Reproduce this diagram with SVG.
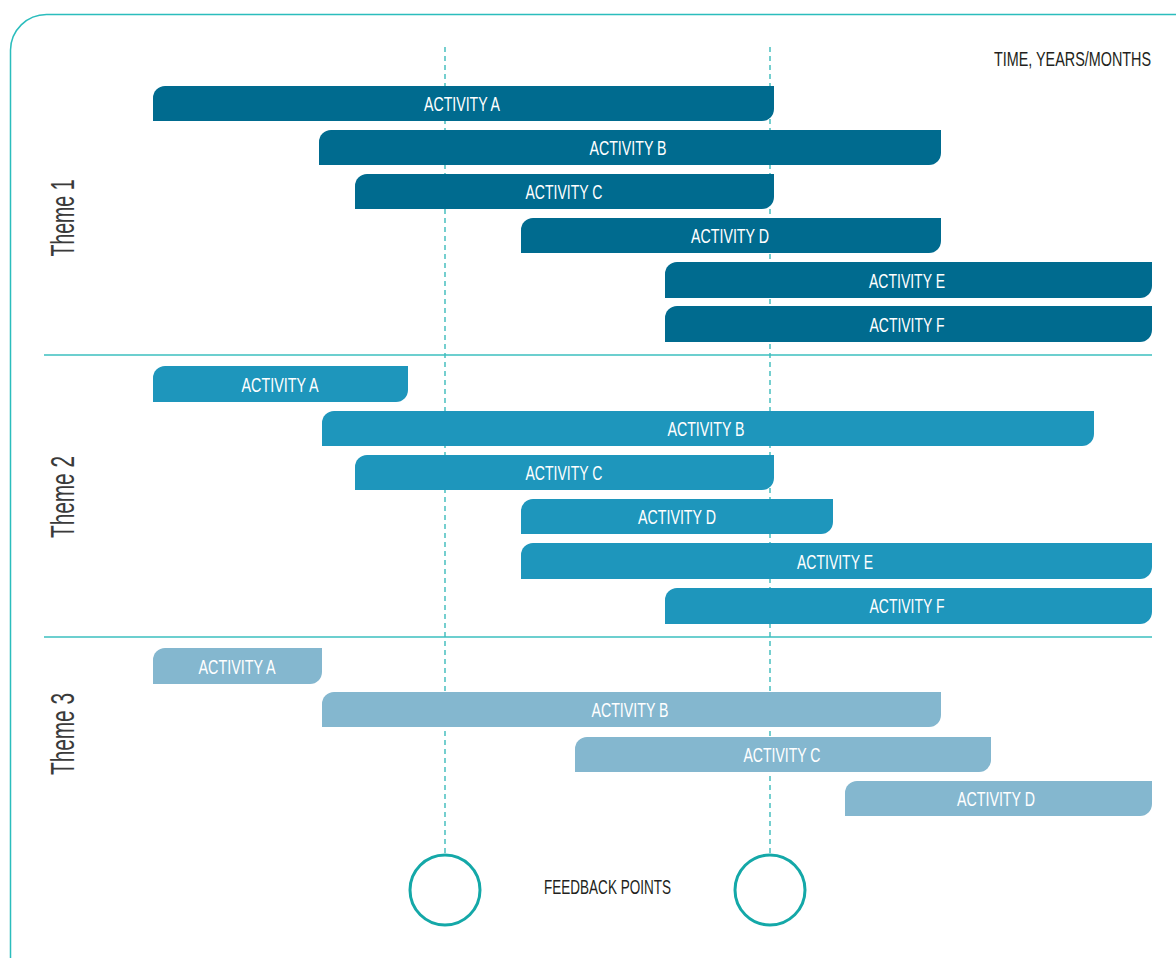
<svg xmlns="http://www.w3.org/2000/svg" width="1176" height="958" viewBox="0 0 1176 958">
<style>
.t1{fill:#006B8F}.t2{fill:#1E96BC}.t3{fill:#84B7CF}
.lbl{font-family:"Liberation Sans",Arial,sans-serif;font-size:19.5px;fill:#fff;text-anchor:middle}
.theme{font-family:"Liberation Sans",Arial,sans-serif;font-size:33px;fill:#3a3a3a;text-anchor:middle}
.dark{font-family:"Liberation Sans",Arial,sans-serif;font-size:21px;fill:#231f20}
.sep{stroke:#3BBFBF;stroke-width:1.5;fill:none}
.dash{stroke:#2BB5B5;stroke-width:1.3;stroke-dasharray:5 4;fill:none}
.fb{fill:none;stroke:#14A8A8;stroke-width:3}
</style>
<rect width="1176" height="958" fill="#fff"/>
<path d="M10.5 958 V50 A36 36 0 0 1 46.5 14.5 H1176" fill="none" stroke="#2BBDBD" stroke-width="1.5"/>
<g id="connectors">
<line class="dash" x1="445" y1="47" x2="445" y2="856"/>
<line class="dash" x1="770" y1="47" x2="770" y2="856"/>
<line class="sep" x1="44" y1="355" x2="1152" y2="355"/>
<line class="sep" x1="44" y1="637" x2="1152" y2="637"/>
</g>
<g id="theme1">
<text class="theme" transform="translate(74 218) rotate(-90)" textLength="77" lengthAdjust="spacingAndGlyphs">Theme 1</text>
<g id="t1a"><path class="t1" d="M153 121 V98 A12 12 0 0 1 165 86 H774 V109 A12 12 0 0 1 762 121 Z"/><text class="lbl" x="462" y="111" textLength="76" lengthAdjust="spacingAndGlyphs">ACTIVITY A</text></g>
<g id="t1b"><path class="t1" d="M319 165 V142 A12 12 0 0 1 331 130 H941 V153 A12 12 0 0 1 929 165 Z"/><text class="lbl" x="628" y="155" textLength="77" lengthAdjust="spacingAndGlyphs">ACTIVITY B</text></g>
<g id="t1c"><path class="t1" d="M355 209 V186 A12 12 0 0 1 367 174 H774 V197 A12 12 0 0 1 762 209 Z"/><text class="lbl" x="564" y="199" textLength="77" lengthAdjust="spacingAndGlyphs">ACTIVITY C</text></g>
<g id="t1d"><path class="t1" d="M521 253 V230 A12 12 0 0 1 533 218 H941 V241 A12 12 0 0 1 929 253 Z"/><text class="lbl" x="730" y="243" textLength="78" lengthAdjust="spacingAndGlyphs">ACTIVITY D</text></g>
<g id="t1e"><path class="t1" d="M665 298 V274 A12 12 0 0 1 677 262 H1152 V286 A12 12 0 0 1 1140 298 Z"/><text class="lbl" x="907" y="287.5" textLength="76" lengthAdjust="spacingAndGlyphs">ACTIVITY E</text></g>
<g id="t1f"><path class="t1" d="M665 342 V318 A12 12 0 0 1 677 306 H1152 V330 A12 12 0 0 1 1140 342 Z"/><text class="lbl" x="907" y="331.5" textLength="75" lengthAdjust="spacingAndGlyphs">ACTIVITY F</text></g>
</g>
<g id="theme2">
<text class="theme" transform="translate(74 497) rotate(-90)" textLength="82" lengthAdjust="spacingAndGlyphs">Theme 2</text>
<g id="t2a"><path class="t2" d="M153 402 V378 A12 12 0 0 1 165 366 H408 V390 A12 12 0 0 1 396 402 Z"/><text class="lbl" x="280" y="391.5" textLength="77" lengthAdjust="spacingAndGlyphs">ACTIVITY A</text></g>
<g id="t2b"><path class="t2" d="M322 446 V423 A12 12 0 0 1 334 411 H1094 V434 A12 12 0 0 1 1082 446 Z"/><text class="lbl" x="706" y="436" textLength="77" lengthAdjust="spacingAndGlyphs">ACTIVITY B</text></g>
<g id="t2c"><path class="t2" d="M355 490 V467 A12 12 0 0 1 367 455 H774 V478 A12 12 0 0 1 762 490 Z"/><text class="lbl" x="564" y="480" textLength="77" lengthAdjust="spacingAndGlyphs">ACTIVITY C</text></g>
<g id="t2d"><path class="t2" d="M521 534 V511 A12 12 0 0 1 533 499 H833 V522 A12 12 0 0 1 821 534 Z"/><text class="lbl" x="677" y="524" textLength="78" lengthAdjust="spacingAndGlyphs">ACTIVITY D</text></g>
<g id="t2e"><path class="t2" d="M521 579 V555 A12 12 0 0 1 533 543 H1152 V567 A12 12 0 0 1 1140 579 Z"/><text class="lbl" x="835" y="568.5" textLength="76" lengthAdjust="spacingAndGlyphs">ACTIVITY E</text></g>
<g id="t2f"><path class="t2" d="M665 624 V600 A12 12 0 0 1 677 588 H1152 V612 A12 12 0 0 1 1140 624 Z"/><text class="lbl" x="907" y="613" textLength="75" lengthAdjust="spacingAndGlyphs">ACTIVITY F</text></g>
</g>
<g id="theme3">
<text class="theme" transform="translate(74 734) rotate(-90)" textLength="82" lengthAdjust="spacingAndGlyphs">Theme 3</text>
<g id="t3a"><path class="t3" d="M153 684 V660 A12 12 0 0 1 165 648 H322 V672 A12 12 0 0 1 310 684 Z"/><text class="lbl" x="237" y="673.5" textLength="77" lengthAdjust="spacingAndGlyphs">ACTIVITY A</text></g>
<g id="t3b"><path class="t3" d="M322 727 V704 A12 12 0 0 1 334 692 H941 V715 A12 12 0 0 1 929 727 Z"/><text class="lbl" x="630" y="717" textLength="77" lengthAdjust="spacingAndGlyphs">ACTIVITY B</text></g>
<g id="t3c"><path class="t3" d="M575 772 V749 A12 12 0 0 1 587 737 H991 V760 A12 12 0 0 1 979 772 Z"/><text class="lbl" x="782" y="761.5" textLength="77" lengthAdjust="spacingAndGlyphs">ACTIVITY C</text></g>
<g id="t3d"><path class="t3" d="M845 816 V793 A12 12 0 0 1 857 781 H1152 V804 A12 12 0 0 1 1140 816 Z"/><text class="lbl" x="996" y="806" textLength="78" lengthAdjust="spacingAndGlyphs">ACTIVITY D</text></g>
</g>
<g id="time-label"><text class="dark" x="1151" y="66" text-anchor="end" textLength="157" lengthAdjust="spacingAndGlyphs">TIME, YEARS/MONTHS</text></g>
<g id="feedback">
<circle class="fb" cx="445" cy="890" r="35"/>
<circle class="fb" cx="770" cy="890" r="35"/>
<text class="dark" x="607.5" y="894" text-anchor="middle" textLength="127" lengthAdjust="spacingAndGlyphs">FEEDBACK POINTS</text>
</g>
</svg>
